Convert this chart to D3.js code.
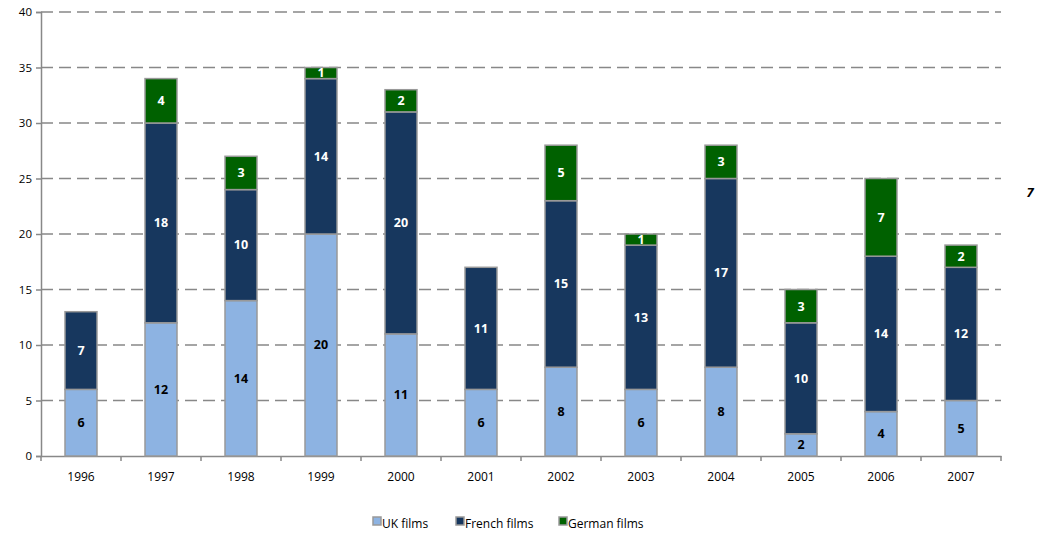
<!DOCTYPE html>
<html><head><meta charset="utf-8">
<script src="https://cdn.jsdelivr.net/npm/d3@7"></script>
<style>body{margin:0;background:#fff}svg{display:block}text{font-family:"Open Sans","Noto Sans",sans-serif}</style>
</head><body><svg id="c" width="1041" height="537"></svg>
<script>
const years = ["1996","1997","1998","1999","2000","2001","2002","2003","2004","2005","2006","2007"];
const ukFilms = [6,12,14,20,11,6,8,6,8,2,4,5];
const frenchFilms = [7,18,10,14,20,11,15,13,17,10,14,12];
const germanFilms = [0,4,3,1,2,0,5,1,3,3,7,2];
const seriesNames = ["UK films","French films","German films"];
const seriesColors = ["#8DB3E2","#17375E","#006100"];
const labelColors = ["#000","#fff","#fff"];
const yTicks = [0,5,10,15,20,25,30,35,40];

const svg = d3.select("#c");
const x = d3.scaleBand().domain(years).range([41,1001]).paddingInner(0.6).paddingOuter(0.3);
const xb = d3.scaleBand().domain(years).range([41,1001]);
const y = d3.scaleLinear().domain([0,40]).range([456,12]);

// grid
svg.append("g").selectAll("line").data(yTicks.filter(d=>d>0)).join("line")
  .attr("x1",41).attr("x2",1001).attr("y1",d=>y(d)).attr("y2",d=>y(d))
  .attr("stroke","#888").attr("stroke-width",1.5).attr("stroke-dasharray","12,6");

// y axis
const ya = svg.append("g").attr("transform","translate(41,0)")
  .call(d3.axisLeft(y).tickValues(yTicks).tickSize(5).tickPadding(4));
ya.select(".domain").attr("stroke","#888").attr("stroke-width",1.5);
ya.selectAll(".tick line").attr("stroke","#888").attr("stroke-width",1.5);
ya.selectAll("text").attr("font-size",11.5).attr("fill","#000");

// x axis
const xa = svg.append("g").attr("transform","translate(0,456)")
  .call(d3.axisBottom(xb).tickSize(0).tickPadding(16));
xa.select(".domain").attr("stroke","#888").attr("stroke-width",1.5);
xa.selectAll("text").attr("font-size",12).attr("fill","#000");
svg.append("g").selectAll("line").data(d3.range(years.length+1)).join("line")
  .attr("x1",i=>41+i*xb.step()).attr("x2",i=>41+i*xb.step())
  .attr("y1",456).attr("y2",461).attr("stroke","#888").attr("stroke-width",1.5);

// stacks
const rows = years.map((yr,i)=>({year:yr, s0:ukFilms[i], s1:frenchFilms[i], s2:germanFilms[i]}));
const stack = d3.stack().keys(["s0","s1","s2"])(rows);
stack.forEach((layer,k)=>{
  const g = svg.append("g");
  const seg = layer.map(d=>({d, v:d[1]-d[0], year:d.data.year})).filter(o=>o.v>0);
  g.selectAll("rect").data(seg).join("rect")
    .attr("x",o=>x(o.year)).attr("width",x.bandwidth())
    .attr("y",o=>y(o.d[1])).attr("height",o=>y(o.d[0])-y(o.d[1]))
    .attr("fill",seriesColors[k]).attr("stroke","#999").attr("stroke-width",1.5);
  g.selectAll("text").data(seg).join("text")
    .attr("x",o=>x(o.year)+x.bandwidth()/2).attr("y",o=>(y(o.d[0])+y(o.d[1]))/2)
    .attr("dy","0.35em").attr("text-anchor","middle").attr("font-size",12.5).attr("font-weight","bold")
    .attr("fill",labelColors[k]).text(o=>o.v);
});

// stray mark
svg.append("text").attr("x",1030).attr("y",197).attr("text-anchor","middle")
  .attr("font-size",13).attr("font-weight","bold").attr("font-style","italic").text("7");

// legend
const legX = [373,456,559];
const lg = svg.append("g");
seriesNames.forEach((n,i)=>{
  lg.append("rect").attr("x",legX[i]).attr("y",517).attr("width",8).attr("height",8)
    .attr("fill",seriesColors[i]).attr("stroke","#999").attr("stroke-width",1.5);
  lg.append("text").attr("x",legX[i]+9).attr("y",528).attr("font-size",12).text(n);
});
</script></body></html>
